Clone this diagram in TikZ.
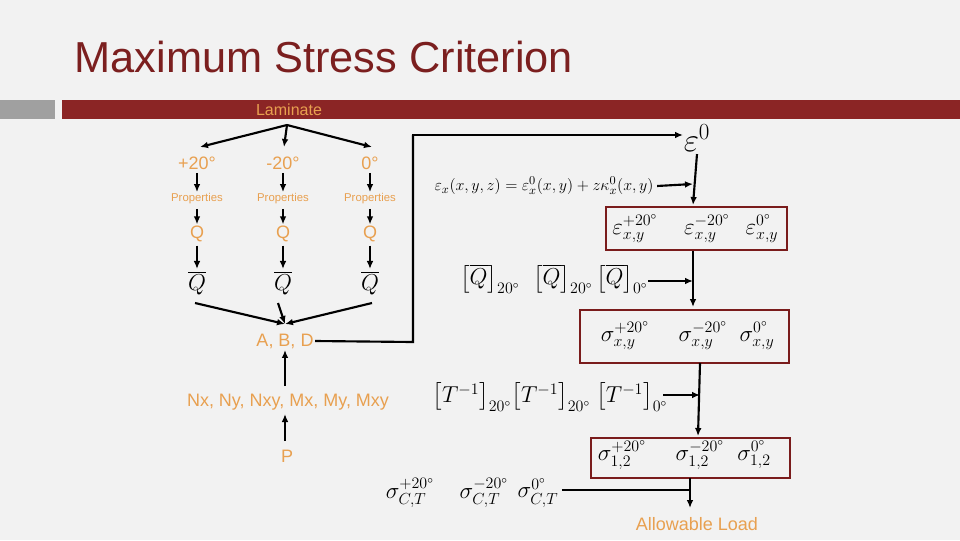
\documentclass[tikz,border=0pt]{standalone}
\usepackage{fontspec}
\setmainfont{Liberation Sans}
\usepackage{amsmath}
\usetikzlibrary{arrows.meta}
\definecolor{bg}{HTML}{F2F2F2}
\definecolor{barred}{HTML}{8B2525}
\definecolor{bargray}{HTML}{A0A0A0}
\definecolor{ttl}{HTML}{7B1F1F}
\definecolor{org}{HTML}{E8A050}
\definecolor{boxred}{HTML}{7A1C1C}
\tikzset{
  lbl/.style={text=org, inner sep=1pt},
  ar/.style={-{Latex[length=6pt,width=5pt]}, line width=1.6pt},
  ln/.style={line width=1.6pt},
  mbox/.style={draw=boxred, line width=0.8pt, fill=none},
  mt/.style={inner sep=1pt, font=\fontsize{17}{19}\selectfont}
}
\begin{document}
\begin{tikzpicture}[x=0.75pt,y=-0.75pt]
\fill[bg] (0,0) rectangle (960,540);
\useasboundingbox (0,0) rectangle (960,540);
\node[anchor=west, text=ttl, font=\fontsize{32.5}{36}\selectfont] (title) at (70,57) {Maximum Stress Criterion};
\fill[bargray] (0,100) rectangle (55,119);
\fill[barred] (62,100) rectangle (960,119);
\node[lbl, font=\fontsize{12}{14}\selectfont] (lam) at (289,110) {Laminate};
\coordinate (lp) at (287,125);
\foreach \n/\x/\t in {a/197/+20°, b/283/-20°, c/370/0°}{
  \node[lbl, font=\fontsize{13.5}{16}\selectfont] (ang\n) at (\x,163) {\t};
  \node[lbl, font=\fontsize{8.5}{10}\selectfont] (pr\n) at (\x,199) {Properties};
  \node[lbl, font=\fontsize{13.5}{16}\selectfont] (q\n) at (\x,234) {Q};
  \node[inner sep=1pt, font=\fontsize{17}{19}\selectfont] (qb\n) at (\x,283) {$\overline{Q}$};
  \draw[ar] (ang\n.south) ++(0,2) -- (pr\n.north);
  \draw[ar] (pr\n.south) ++(0,3) -- (q\n.north);
  \draw[ar] (q\n.south) ++(0,2) -- (qb\n.north);
}
\draw[ar] (lp) -- (200,147);
\draw[ar] (lp) -- (284,147);
\draw[ar] (lp) -- (372,147);
\node[lbl, font=\fontsize{13.5}{16}\selectfont] (abd) at (285,341) {A, B, D};
\coordinate (abdt) at (285,324);
\draw[ar] (195,303) -- (abdt);
\draw[ar] (278,303) -- (abdt);
\draw[ar] (372,303) -- (abdt);
\node[lbl, font=\fontsize{13.5}{16}\selectfont] (nx) at (288,402) {Nx, Ny, Nxy, Mx, My, Mxy};
\node[lbl, font=\fontsize{13.5}{16}\selectfont] (P) at (287,456) {P};
\draw[ar] (285,386) -- (abd.south);
\draw[ar] (285,441) -- (285,414);
\node[inner sep=1pt, font=\fontsize{24}{26}\selectfont] (e0) at (697,138) {$\varepsilon^{0}$};
\draw[ln] (abd.east) -- (413,342) -- (413,135);
\draw[ar] (411.8,135) -- (683,135);
\node[inner sep=1pt, font=\fontsize{12.8}{15}\selectfont] (eq) at (544,186) {$\varepsilon_x(x,y,z)=\varepsilon_x^0(x,y)+z\kappa_x^0(x,y)$};
\draw[ar] (eq.east) ++(2,0) -- (693,184);
\draw[ar] (e0.south) ++(0,1) -- (693,205);
\draw[mbox] (606,207) rectangle (787,250);
\node[mt] (e1) at (635,229) {$\varepsilon_{x,y}^{+20^\circ}$};
\node[mt] (e2) at (707,229) {$\varepsilon_{x,y}^{-20^\circ}$};
\node[mt] (e3) at (762,229) {$\varepsilon_{x,y}^{0^\circ}$};
\draw[ar] (693,251) -- (693,307);
\node[mt] (q1) at (490,279) {$\bigl[\overline{Q}\bigr]_{20^\circ}$};
\node[mt] (q2) at (563,279) {$\bigl[\overline{Q}\bigr]_{20^\circ}$};
\node[mt] (q3) at (622,279) {$\bigl[\overline{Q}\bigr]_{0^\circ}$};
\draw[ar] (648,281) -- (693,281);
\draw[mbox] (580,310) rectangle (789,363);
\node[mt] (s1) at (625,336) {$\sigma_{x,y}^{+20^\circ}$};
\node[mt] (s2) at (703,336) {$\sigma_{x,y}^{-20^\circ}$};
\node[mt] (s3) at (757,336) {$\sigma_{x,y}^{0^\circ}$};
\draw[ar] (700,363) -- (698,436);
\node[mt] (t1) at (472,397) {$\bigl[T^{-1}\bigr]_{20^\circ}$};
\node[mt] (t2) at (551,397) {$\bigl[T^{-1}\bigr]_{20^\circ}$};
\node[mt] (t3) at (632,397) {$\bigl[T^{-1}\bigr]_{0^\circ}$};
\draw[ar] (663,395) -- (700,395);
\draw[mbox] (591,438) rectangle (790,478);
\node[mt] (p1) at (622,455) {$\sigma_{1,2}^{+20^\circ}$};
\node[mt] (p2) at (700,455) {$\sigma_{1,2}^{-20^\circ}$};
\node[mt] (p3) at (754,455) {$\sigma_{1,2}^{0^\circ}$};
\node[mt] (c1) at (410,493) {$\sigma_{C,T}^{+20^\circ}$};
\node[mt] (c2) at (484,493) {$\sigma_{C,T}^{-20^\circ}$};
\node[mt] (c3) at (538,493) {$\sigma_{C,T}^{0^\circ}$};
\node[lbl, font=\fontsize{13.5}{16}\selectfont] (al) at (697,524) {Allowable Load};
\draw[ln] (c3.east) ++(2,-3) -- (690,490);
\draw[ar] (690,478) -- (690,508);
\end{tikzpicture}
\end{document}
